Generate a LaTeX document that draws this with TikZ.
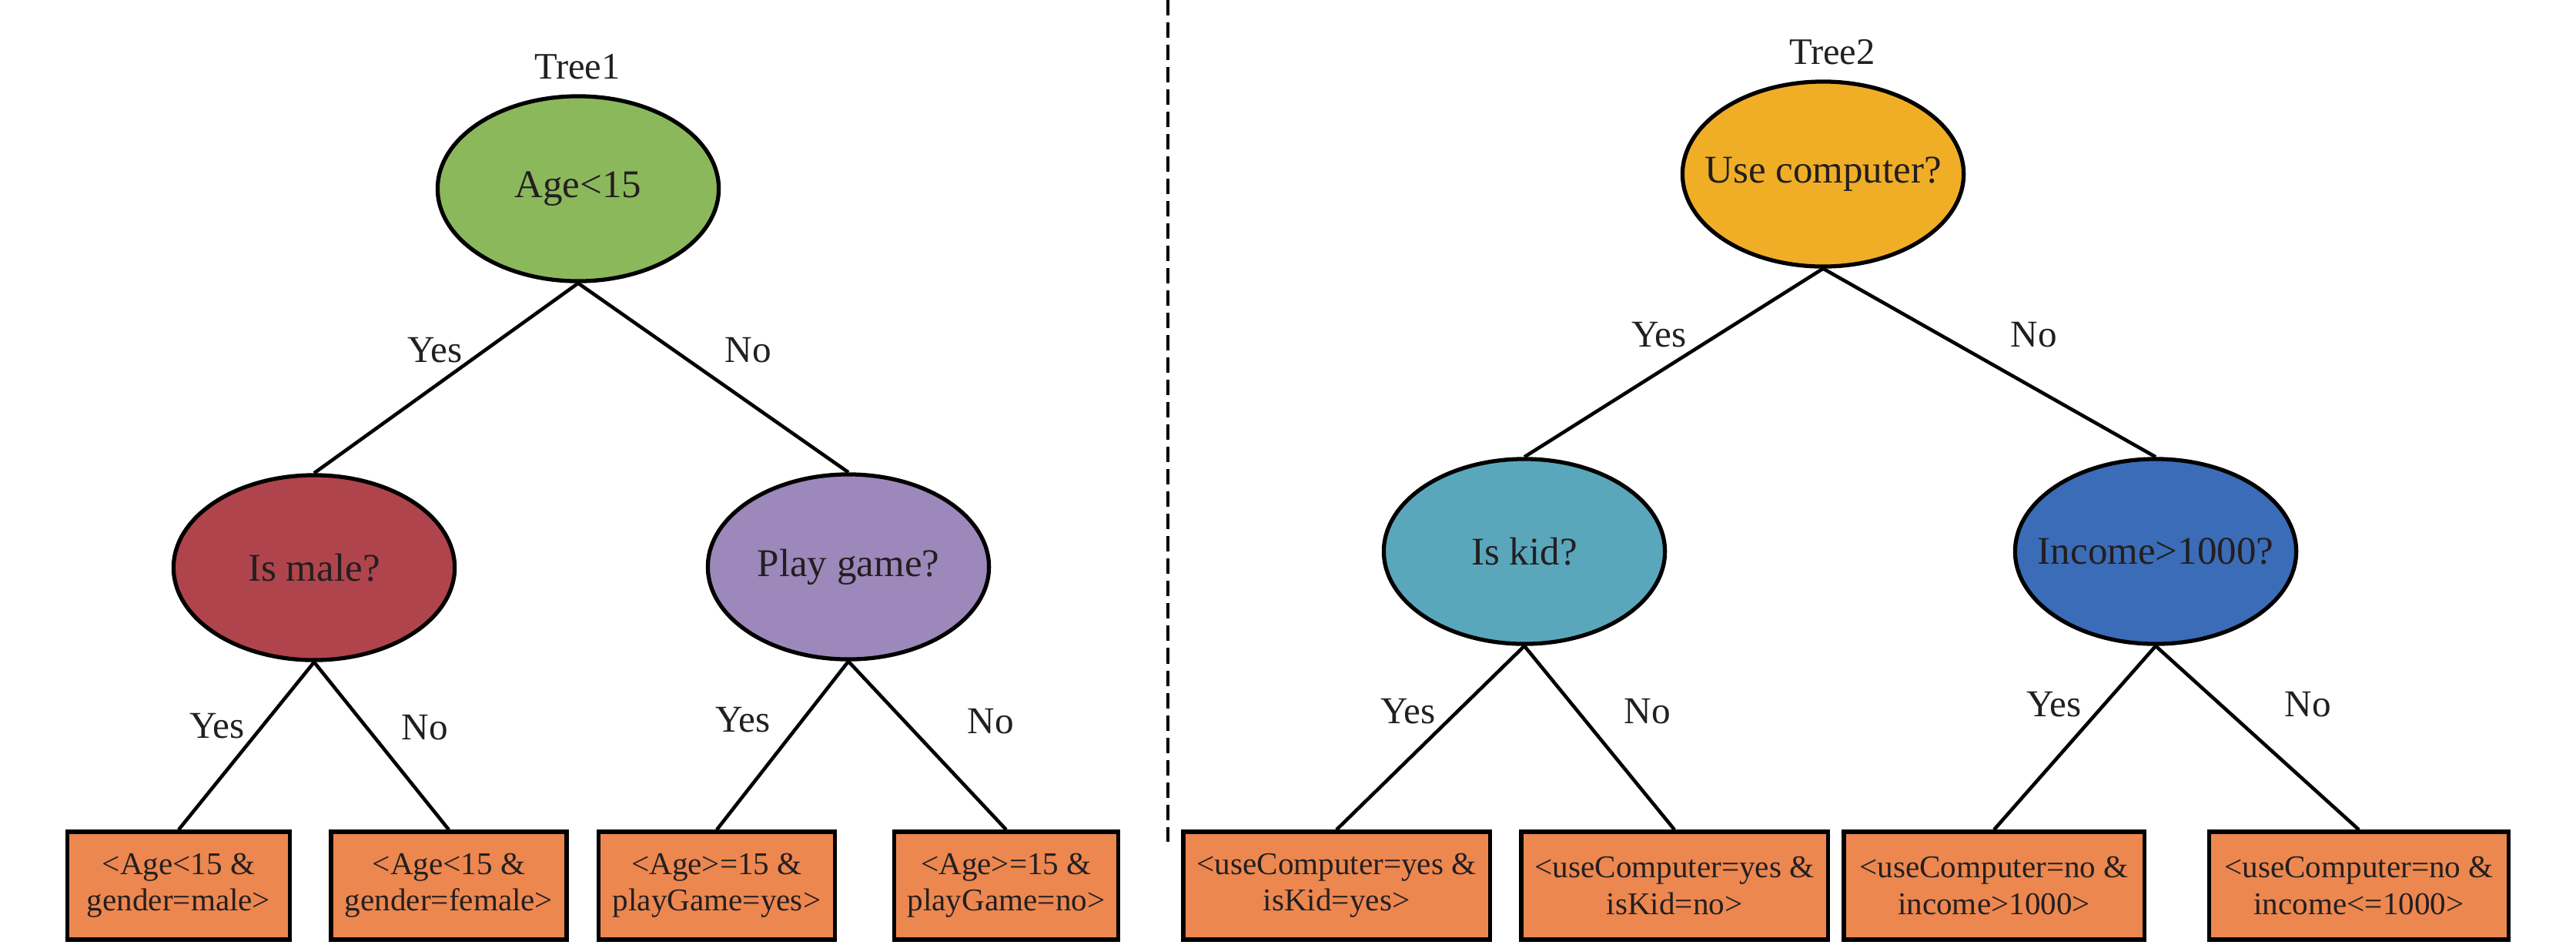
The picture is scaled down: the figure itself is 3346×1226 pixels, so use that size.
\documentclass[tikz,border=0pt]{standalone}
\usepackage{fontspec}
\setmainfont{Liberation Serif}
\usetikzlibrary{shapes.geometric}
\definecolor{txt}{HTML}{231F20}
\definecolor{cgreen}{HTML}{8CB85C}
\definecolor{cred}{HTML}{B0444C}
\definecolor{cpurple}{HTML}{9C88BA}
\definecolor{corange}{HTML}{F0AE27}
\definecolor{cteal}{HTML}{5AA7BC}
\definecolor{cblue}{HTML}{3B6CB7}
\definecolor{cleaf}{HTML}{EC8750}
\begin{document}
\begin{tikzpicture}[x=0.01cm,y=-0.01cm,
  dnode/.style={ellipse,draw=black,line width=1.5pt,minimum width=3.65cm,minimum height=2.40cm,inner xsep=-0.6cm,inner ysep=0pt,font=\fontsize{14.5}{17}\selectfont,text=txt},
  leaf/.style={rectangle,draw=black,line width=1.5pt,fill=cleaf,minimum height=1.40cm,inner sep=0pt,align=center,font=\fontsize{11.7}{13.4}\selectfont,text=txt},
  edge/.style={line width=1.3pt,draw=black},
  lbl/.style={font=\fontsize{14}{16}\selectfont,text=txt,inner sep=0pt},
  ttl/.style={font=\fontsize{13.8}{16}\selectfont,text=txt,inner sep=0pt}]
\useasboundingbox (0,0) rectangle (3346,1226);
% divider
\coordinate (dtop) at (1517,0);
\coordinate (dbot) at (1517,1093);
\draw[line width=1.3pt,dash pattern=on 0.2cm off 0.09cm] (dtop) -- (dbot);
% Tree 1
\node[ttl] (t1) at (750,87) {Tree1};
\node[dnode,fill=cgreen] (r1) at (751,245) {Age<15};
\node[dnode,fill=cred] (m1) at (408,737) {Is male?};
\node[dnode,fill=cpurple] (m2) at (1102,736) {Play game?};
\node[leaf,minimum width=2.89cm] (l1) at (232,1150) {<Age<15 \&\\gender=male>};
\node[leaf,minimum width=3.06cm] (l2) at (583,1150) {<Age<15 \&\\gender=female>};
\node[leaf,minimum width=3.07cm] (l3) at (931,1150) {<Age>=15 \&\\playGame=yes>};
\node[leaf,minimum width=2.91cm] (l4) at (1307,1150) {<Age>=15 \&\\playGame=no>};
\draw[edge] (r1.south) -- (m1.north);
\draw[edge] (r1.south) -- (m2.north);
\draw[edge] (m1.south) -- (l1.north);
\draw[edge] (m1.south) -- (l2.north);
\draw[edge] (m2.south) -- (l3.north);
\draw[edge] (m2.south) -- (l4.north);
\node[lbl] (y1) at (565,455) {Yes};
\node[lbl] (n1) at (972,455) {No};
\node[lbl] (y2) at (282,943) {Yes};
\node[lbl] (n2) at (552,945) {No};
\node[lbl] (y3) at (965,935) {Yes};
\node[lbl] (n3) at (1287,937) {No};
% Tree 2
\node[ttl] (t2) at (2380,68) {Tree2};
\node[dnode,fill=corange] (r2) at (2368,226) {Use computer?};
\node[dnode,fill=cteal] (m3) at (1980,716) {Is kid?};
\node[dnode,fill=cblue] (m4) at (2800,716) {Income>1000?};
\node[leaf,minimum width=3.98cm] (l5) at (1736,1150) {<useComputer=yes \&\\isKid=yes>};
\node[leaf,minimum width=3.98cm] (l6) at (2175,1150) {<useComputer=yes \&\\isKid=no>};
\node[leaf,minimum width=3.90cm] (l7) at (2590,1150) {<useComputer=no \&\\income>1000>};
\node[leaf,minimum width=3.89cm] (l8) at (3064,1150) {<useComputer=no \&\\income<=1000>};
\draw[edge] (r2.south) -- (m3.north);
\draw[edge] (r2.south) -- (m4.north);
\draw[edge] (m3.south) -- (l5.north);
\draw[edge] (m3.south) -- (l6.north);
\draw[edge] (m4.south) -- (l7.north);
\draw[edge] (m4.south) -- (l8.north);
\node[lbl] (y4) at (2155,435) {Yes};
\node[lbl] (n4) at (2642,435) {No};
\node[lbl] (y5) at (1829,924) {Yes};
\node[lbl] (n5) at (2140,924) {No};
\node[lbl] (y6) at (2668,915) {Yes};
\node[lbl] (n6) at (2998,915) {No};
\end{tikzpicture}
\end{document}
